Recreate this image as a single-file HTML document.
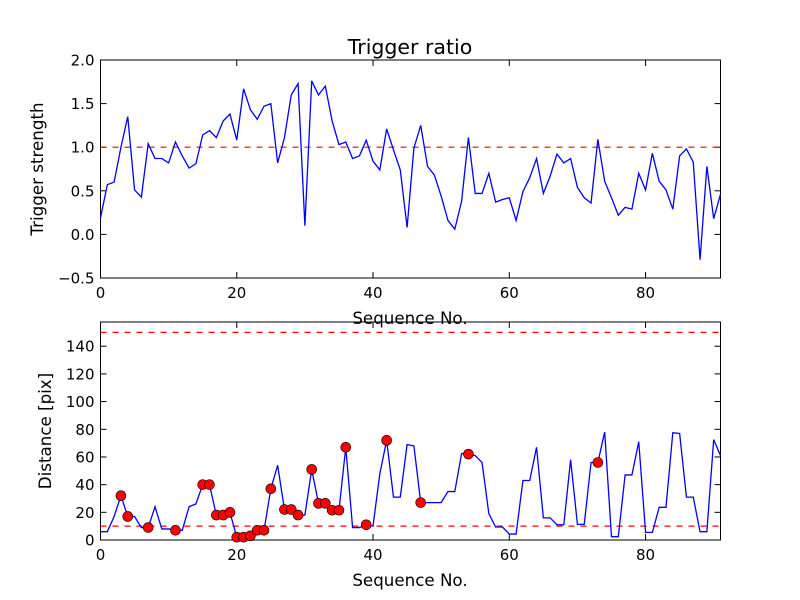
<!DOCTYPE html>
<html><head><meta charset="utf-8"><style>
body{margin:0;background:#fff}
svg{display:block;font-family:"DejaVu Sans","Liberation Sans",sans-serif}
</style></head><body>
<svg id="fig" width="800" height="600" viewBox="0 0 800 600">
<rect width="800" height="600" fill="#fff"/>
<text x="410" y="54" font-size="20.5" text-anchor="middle">Trigger ratio</text>
<g id="top"></g>
<g id="bot"></g>
</svg>
<script>
const xTicks=[0,20,40,60,80];
const topYTicks=[-0.5,0,0.5,1.0,1.5,2.0];
const topYLabels=["\u22120.5","0.0","0.5","1.0","1.5","2.0"];
const botYTicks=[0,20,40,60,80,100,120,140];
const trigger=[0.19,0.57,0.60,1.0,1.35,0.51,0.43,1.04,0.87,0.87,0.82,1.06,0.90,0.76,0.81,1.14,1.19,1.11,1.30,1.38,1.08,1.67,1.43,1.32,1.47,1.50,0.82,1.11,1.60,1.73,0.10,1.76,1.60,1.70,1.30,1.03,1.06,0.87,0.90,1.08,0.84,0.74,1.21,0.97,0.74,0.08,0.99,1.25,0.78,0.68,0.44,0.16,0.06,0.38,1.11,0.47,0.47,0.70,0.37,0.40,0.42,0.16,0.49,0.65,0.87,0.47,0.67,0.92,0.82,0.87,0.54,0.42,0.36,1.09,0.61,0.42,0.22,0.31,0.29,0.70,0.51,0.93,0.61,0.51,0.29,0.90,0.98,0.83,-0.29,0.78,0.18,0.46];
const distance=[6,6,17,32,17,17,9,9,24,8,8,7,7,24,26,40,40,18,18,20,2,2,3,7,7,37,54,22,22,18,18,51,26.5,26.5,21.5,21.5,67,9,9,11,10,48,72,31,31,69,68,27,27,27,27,35,35,62.5,62,61,56,19,9.4,9.4,4.3,4.3,43,43,67,16,16,11,11,58,11.3,11.3,56,56,78,2.4,2.4,47,47,71,5.5,5.5,23.6,23.6,77.5,77,31,31,6,6,72.5,61];
const flagged=[3,4,7,11,15,16,17,18,19,20,21,22,23,24,25,27,28,29,31,32,33,34,35,36,39,42,47,54,73];
const triggerThreshold=[1.0];
const distanceThresholds=[10,150];
const NS="http://www.w3.org/2000/svg";
function mk(parent,tag,attrs,txt){const e=document.createElementNS(NS,tag);for(const k in attrs)e.setAttribute(k,attrs[k]);if(txt!==undefined)e.textContent=txt;parent.appendChild(e);return e;}
function panel(g,top,bottom,ymin,ymax,yticks,ylabels,ylabel,ylabX,name){
  const L=100.5,R=720.5,xmax=91;
  const sx=v=>L+(R-L)*v/xmax, sy=v=>bottom-(bottom-top)*(v-ymin)/(ymax-ymin);
  xTicks.forEach(t=>{
    const a=mk(g,'line',{x1:sx(t),x2:sx(t),y1:bottom,y2:bottom-6,stroke:'#000'});
    
    mk(g,'line',{x1:sx(t),x2:sx(t),y1:top,y2:top+6,stroke:'#000'});
    const l=mk(g,'text',{x:sx(t),y:bottom+20,'font-size':15,'text-anchor':'middle'},String(t));
    
  });
  yticks.forEach((t,i)=>{
    mk(g,'line',{x1:L,x2:L+6,y1:sy(t),y2:sy(t),stroke:'#000'});
    mk(g,'line',{x1:R,x2:R-6,y1:sy(t),y2:sy(t),stroke:'#000'});
    const l=mk(g,'text',{x:L-6,y:sy(t)+5.5,'font-size':15,'text-anchor':'end'},ylabels[i]);
    
  });
  const xl=mk(g,'text',{x:410,y:bottom+46,'font-size':16.7,'text-anchor':'middle'},'Sequence No.');
  
  const yl=mk(g,'text',{x:ylabX,y:(top+bottom)/2,'font-size':16.7,'text-anchor':'middle',transform:`rotate(-90 ${ylabX} ${(top+bottom)/2})`},ylabel);
  
  const fr=mk(g,'rect',{x:L,y:top,width:R-L,height:bottom-top,fill:'none',stroke:'#000','stroke-width':1});
  
  return {sx,sy,L,R};
}
const tg=document.getElementById('top');
const p1=panel(tg,60,278,-0.5,2.0,topYTicks,topYLabels,'Trigger strength',43,'top');
triggerThreshold.forEach(v=>{const d=mk(tg,'line',{x1:p1.L,x2:p1.R,y1:p1.sy(v),y2:p1.sy(v),stroke:'#f00','stroke-dasharray':'6,6','stroke-width':1.2});
});
const l1=mk(tg,'polyline',{points:trigger.map((v,i)=>p1.sx(i)+','+p1.sy(v)).join(' '),fill:'none',stroke:'#00f','stroke-width':1.3});

const bg=document.getElementById('bot');
const p2=panel(bg,322,540,0,157.5,botYTicks,botYTicks.map(String),'Distance [pix]',51,'bottom');
distanceThresholds.forEach(v=>{const d=mk(bg,'line',{x1:p2.L,x2:p2.R,y1:p2.sy(v),y2:p2.sy(v),stroke:'#f00','stroke-dasharray':'6,6','stroke-width':1.2});
});
const l2=mk(bg,'polyline',{points:distance.map((v,i)=>p2.sx(i)+','+p2.sy(v)).join(' '),fill:'none',stroke:'#00f','stroke-width':1.3});

flagged.forEach(i=>{const c=mk(bg,'circle',{cx:p2.sx(i),cy:p2.sy(distance[i]),r:5,fill:'#f00',stroke:'#000','stroke-width':0.6});
});
</script>
</body></html>
